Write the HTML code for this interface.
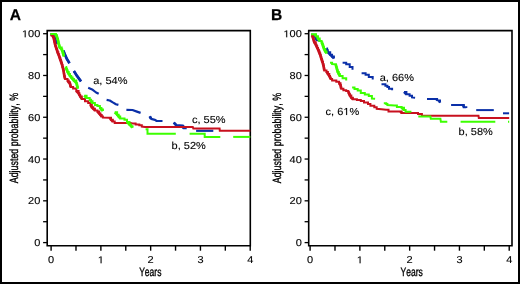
<!DOCTYPE html>
<html><head><meta charset="utf-8"><title>Adjusted probability</title>
<style>
html,body{margin:0;padding:0;background:#fff;width:520px;height:284px;overflow:hidden;}
svg{display:block;will-change:transform;filter:blur(0.35px);}
g.tk,g.an,g.ttl,g.lt{fill:#000;stroke:#000;}
g text{font-kerning:none;text-rendering:geometricPrecision;white-space:pre;}
g.g1,path.g1{vector-effect:non-scaling-stroke;}
g.tk text{stroke-width:0.12px;} g.tk path{stroke-width:0.12px;}
g.an text{stroke-width:0.1px;} g.an path{stroke-width:0.1px;}
g.ttl text{stroke-width:0.35px;}
g.lt text{stroke-width:0.25px;}
</style></head>
<body>
<svg width="520" height="284" viewBox="0 0 520 284">
<rect x="0" y="0" width="520" height="284" fill="#fff"/>
<path d="M47.20 30.60 H250.30 V245.80 H47.20 Z" fill="none" stroke="#000" stroke-width="1.6"/>
<line x1="43.10" y1="242.60" x2="47.20" y2="242.60" stroke="#000" stroke-width="1.3"/>
<line x1="43.10" y1="221.71" x2="47.20" y2="221.71" stroke="#000" stroke-width="1.3"/>
<line x1="43.10" y1="200.82" x2="47.20" y2="200.82" stroke="#000" stroke-width="1.3"/>
<line x1="43.10" y1="179.93" x2="47.20" y2="179.93" stroke="#000" stroke-width="1.3"/>
<line x1="43.10" y1="159.04" x2="47.20" y2="159.04" stroke="#000" stroke-width="1.3"/>
<line x1="43.10" y1="138.15" x2="47.20" y2="138.15" stroke="#000" stroke-width="1.3"/>
<line x1="43.10" y1="117.26" x2="47.20" y2="117.26" stroke="#000" stroke-width="1.3"/>
<line x1="43.10" y1="96.37" x2="47.20" y2="96.37" stroke="#000" stroke-width="1.3"/>
<line x1="43.10" y1="75.48" x2="47.20" y2="75.48" stroke="#000" stroke-width="1.3"/>
<line x1="43.10" y1="54.59" x2="47.20" y2="54.59" stroke="#000" stroke-width="1.3"/>
<line x1="43.10" y1="33.70" x2="47.20" y2="33.70" stroke="#000" stroke-width="1.3"/>
<line x1="51.10" y1="245.80" x2="51.10" y2="250.70" stroke="#000" stroke-width="1.4"/>
<line x1="75.99" y1="245.80" x2="75.99" y2="250.70" stroke="#000" stroke-width="1.4"/>
<line x1="100.88" y1="245.80" x2="100.88" y2="250.70" stroke="#000" stroke-width="1.4"/>
<line x1="125.77" y1="245.80" x2="125.77" y2="250.70" stroke="#000" stroke-width="1.4"/>
<line x1="150.66" y1="245.80" x2="150.66" y2="250.70" stroke="#000" stroke-width="1.4"/>
<line x1="175.55" y1="245.80" x2="175.55" y2="250.70" stroke="#000" stroke-width="1.4"/>
<line x1="200.44" y1="245.80" x2="200.44" y2="250.70" stroke="#000" stroke-width="1.4"/>
<line x1="225.33" y1="245.80" x2="225.33" y2="250.70" stroke="#000" stroke-width="1.4"/>
<line x1="250.22" y1="245.80" x2="250.22" y2="250.70" stroke="#000" stroke-width="1.4"/>
<g class="tk" transform="translate(40.30,246.20) scale(1.1,1)" font-family='"Liberation Sans", sans-serif' font-size="10.0" font-weight="normal"><text x="-5.562" y="0">0</text></g>
<g class="tk" transform="translate(40.30,204.42) scale(1.1,1)" font-family='"Liberation Sans", sans-serif' font-size="10.0" font-weight="normal"><text x="-11.123" y="0">20</text></g>
<g class="tk" transform="translate(40.30,162.64) scale(1.1,1)" font-family='"Liberation Sans", sans-serif' font-size="10.0" font-weight="normal"><text x="-11.123" y="0">40</text></g>
<g class="tk" transform="translate(40.30,120.86) scale(1.1,1)" font-family='"Liberation Sans", sans-serif' font-size="10.0" font-weight="normal"><text x="-11.123" y="0">60</text></g>
<g class="tk" transform="translate(40.30,79.08) scale(1.1,1)" font-family='"Liberation Sans", sans-serif' font-size="10.0" font-weight="normal"><text x="-11.123" y="0">80</text></g>
<g class="tk" transform="translate(40.30,37.30) scale(1.1,1)" font-family='"Liberation Sans", sans-serif' font-size="10.0" font-weight="normal"><path class="g1" transform="translate(-16.685,0) scale(0.004883,-0.004883)" d="M515 0V1237L197 1010V1180L530 1409H696V0Z"/><text x="-11.123" y="0">00</text></g>
<g class="tk" transform="translate(51.10,263.30) scale(1.1,1)" font-family='"Liberation Sans", sans-serif' font-size="10.0" font-weight="normal"><text x="-2.781" y="0">0</text></g>
<g class="tk" transform="translate(100.88,263.30) scale(1.1,1)" font-family='"Liberation Sans", sans-serif' font-size="10.0" font-weight="normal"><path class="g1" transform="translate(-2.781,0) scale(0.004883,-0.004883)" d="M515 0V1237L197 1010V1180L530 1409H696V0Z"/></g>
<g class="tk" transform="translate(150.66,263.30) scale(1.1,1)" font-family='"Liberation Sans", sans-serif' font-size="10.0" font-weight="normal"><text x="-2.781" y="0">2</text></g>
<g class="tk" transform="translate(200.44,263.30) scale(1.1,1)" font-family='"Liberation Sans", sans-serif' font-size="10.0" font-weight="normal"><text x="-2.781" y="0">3</text></g>
<g class="tk" transform="translate(250.22,263.30) scale(1.1,1)" font-family='"Liberation Sans", sans-serif' font-size="10.0" font-weight="normal"><text x="-2.781" y="0">4</text></g>
<g class="ttl" transform="translate(150.30,275.90) scale(0.71,1)" font-family='"Liberation Sans", sans-serif' font-size="12.0" font-weight="normal"><text x="-15.674" y="0">Years</text></g>
<g class="ttl" transform="translate(18.20,138.10) rotate(-90) scale(0.74,1)" font-family='"Liberation Sans", sans-serif' font-size="12.0" font-weight="normal"><text x="-61.034" y="0">Adjusted probability, %</text></g>
<g class="lt" transform="translate(9.80,19.60) scale(1.0,1)" font-family='"Liberation Sans", sans-serif' font-size="15.6" font-weight="bold"><text x="0.000" y="0">A</text></g>
<path d="M50.30 34.20 L53.50 34.40 L55.90 38.80 L56.80 44.00" fill="none" stroke="#0a2fa8" stroke-width="2.2" stroke-linejoin="round" stroke-linecap="butt"/>
<path d="M53.50 34.40 L55.90 38.80 L56.80 44.00" fill="none" stroke="#0a2fa8" stroke-width="2.7" stroke-linejoin="round" stroke-linecap="butt"/>
<path d="M63.30 50.60 L64.80 54.30 L66.90 59.00 L69.50 63.20" fill="none" stroke="#0a2fa8" stroke-width="2.2" stroke-linejoin="round" stroke-linecap="butt"/>
<path d="M63.30 50.60 L64.80 54.30 L66.90 59.00 L69.50 63.20" fill="none" stroke="#0a2fa8" stroke-width="2.7" stroke-linejoin="round" stroke-linecap="butt"/>
<path d="M73.90 71.10 L77.00 75.90 L81.00 81.40" fill="none" stroke="#0a2fa8" stroke-width="2.2" stroke-linejoin="round" stroke-linecap="butt"/>
<path d="M73.90 71.10 L77.00 75.90 L81.00 81.40" fill="none" stroke="#0a2fa8" stroke-width="2.7" stroke-linejoin="round" stroke-linecap="butt"/>
<path d="M88.20 87.80 L92.10 89.40 L96.10 92.50 L98.70 93.80" fill="none" stroke="#0a2fa8" stroke-width="2.2" stroke-linejoin="round" stroke-linecap="butt"/>
<path d="M106.60 99.90 L109.70 100.50 L112.80 102.40 L115.90 104.20 L118.40 104.90" fill="none" stroke="#0a2fa8" stroke-width="2.2" stroke-linejoin="round" stroke-linecap="butt"/>
<path d="M126.40 109.80 L132.50 110.00 L136.90 111.60 L140.60 112.90" fill="none" stroke="#0a2fa8" stroke-width="2.2" stroke-linejoin="round" stroke-linecap="butt"/>
<path d="M149.80 116.30 L151.00 118.70 L152.10 119.20 L155.00 119.80 L156.70 121.00 L162.50 121.00" fill="none" stroke="#0a2fa8" stroke-width="2.2" stroke-linejoin="round" stroke-linecap="butt"/>
<path d="M149.80 116.30 L151.00 118.70" fill="none" stroke="#0a2fa8" stroke-width="2.7" stroke-linejoin="round" stroke-linecap="butt"/>
<path d="M173.75 122.60 L176.30 125.20 L183.00 125.50 L183.30 128.20 L186.70 128.20" fill="none" stroke="#0a2fa8" stroke-width="2.2" stroke-linejoin="round" stroke-linecap="butt"/>
<path d="M173.75 122.60 L176.30 125.20" fill="none" stroke="#0a2fa8" stroke-width="2.7" stroke-linejoin="round" stroke-linecap="butt"/>
<path d="M183.00 125.50 L183.30 128.20" fill="none" stroke="#0a2fa8" stroke-width="2.7" stroke-linejoin="round" stroke-linecap="butt"/>
<path d="M196.10 130.80 L213.30 130.80" fill="none" stroke="#0a2fa8" stroke-width="2.2" stroke-linejoin="round" stroke-linecap="butt"/>
<path d="M50.30 35.20 L52.30 35.50 L53.05 35.50 L53.05 37.00 L53.80 37.00 L53.80 38.50 L54.10 38.50 L54.10 40.05 L54.40 40.05 L54.40 41.60 L54.90 41.60 L54.90 43.70 L55.40 43.70 L55.40 45.80 L55.95 45.80 L55.95 47.40 L56.50 47.40 L56.50 49.00 L57.00 49.00 L57.00 50.60 L57.50 50.60 L57.50 52.20 L58.30 52.20 L58.30 54.30 L59.10 54.30 L59.10 56.40 L59.75 56.40 L59.75 58.20 L60.40 58.20 L60.40 60.00 L60.93 60.00 L60.93 61.60 L61.47 61.60 L61.47 63.20 L62.00 63.20 L62.00 64.80 L62.53 64.80 L62.53 66.90 L63.07 66.90 L63.07 69.00 L63.60 69.00 L63.60 71.10 L63.83 71.10 L63.83 72.70 L64.07 72.70 L64.07 74.30 L64.30 74.30 L64.30 75.90 L64.70 75.90 L64.70 77.45 L65.10 77.45 L65.10 79.00 L67.50 79.00 L67.50 80.60 L68.70 80.60 L68.70 82.20 L69.90 82.20 L69.90 83.80 L70.30 83.80 L70.30 85.40 L70.70 85.40 L70.70 87.00 L73.10 87.00 L73.10 88.60 L76.30 88.60 L76.30 91.00 L78.60 91.00 L78.60 93.30 L79.40 93.30 L79.40 94.90 L80.20 94.90 L80.20 96.50 L81.80 96.50 L81.80 98.90 L85.00 98.90 L85.00 101.30 L88.20 101.30 L88.20 102.90 L90.50 102.90 L90.50 105.00 L91.80 105.00 L91.80 107.30 L93.35 107.30 L93.35 108.85 L94.90 108.85 L94.90 110.40 L97.40 110.40 L97.40 111.60 L99.20 111.60 L99.20 113.50 L100.45 113.50 L100.45 115.05 L101.70 115.05 L101.70 116.60 L102.90 116.60 L102.90 117.60 L109.70 117.80 L111.00 117.80 L111.00 119.70 L112.80 119.70 L112.80 121.50 L114.70 121.50 L114.70 122.90 L130.70 122.90 L132.50 123.40 L135.60 123.40 L135.60 124.60 L139.30 124.60 L139.30 125.20 L141.80 125.20 L141.80 126.60 L145.00 127.00 L192.80 127.00 L193.30 128.50 L219.60 128.50 L219.80 130.80 L250.30 130.80" fill="none" stroke="#c8101e" stroke-width="2.0" stroke-linejoin="miter" stroke-linecap="butt"/><path d="M52.30 35.50 L53.80 38.50 L54.40 41.60 L55.40 45.80 L56.50 49.00 L57.50 52.20 L59.10 56.40 L60.40 60.00 L62.00 64.80 L63.60 71.10 L64.30 75.90 L65.10 79.00" fill="none" stroke="#c8101e" stroke-width="2.6" stroke-linejoin="round" stroke-linecap="butt"/><path d="M67.50 80.60 L69.90 83.80 L70.70 87.00" fill="none" stroke="#c8101e" stroke-width="2.6" stroke-linejoin="round" stroke-linecap="butt"/><path d="M76.30 91.00 L78.60 93.30 L80.20 96.50 L81.80 98.90" fill="none" stroke="#c8101e" stroke-width="2.6" stroke-linejoin="round" stroke-linecap="butt"/><path d="M90.50 105.00 L91.80 107.30 L94.90 110.40" fill="none" stroke="#c8101e" stroke-width="2.6" stroke-linejoin="round" stroke-linecap="butt"/><path d="M97.40 111.60 L99.20 113.50 L101.70 116.60" fill="none" stroke="#c8101e" stroke-width="2.6" stroke-linejoin="round" stroke-linecap="butt"/><path d="M109.70 117.80 L111.00 119.70 L112.80 121.50" fill="none" stroke="#c8101e" stroke-width="2.6" stroke-linejoin="round" stroke-linecap="butt"/>
<path d="M50.30 33.90 L54.90 33.90 L55.90 33.90 L55.90 35.30 L57.00 35.30 L57.00 37.40 L57.50 37.40 L57.50 39.00 L58.00 39.00 L58.00 40.60 L58.30 40.60 L58.30 42.15 L58.60 42.15 L58.60 43.70 L59.10 43.70 L59.10 45.55 L59.60 45.55 L59.60 47.40 L61.70 47.40 L61.70 49.50 L62.25 49.50 L62.25 51.10 L62.80 51.10 L62.80 52.70 L63.30 52.70 L63.30 54.55 L63.80 54.55 L63.80 56.40" fill="none" stroke="#3cff00" stroke-width="2.0" stroke-linejoin="miter" stroke-linecap="butt"/><path d="M54.90 33.90 L55.90 35.30 L57.00 37.40 L58.00 40.60 L58.60 43.70 L59.60 47.40 L61.70 49.50 L62.80 52.70 L63.80 56.40" fill="none" stroke="#3cff00" stroke-width="2.6" stroke-linejoin="round" stroke-linecap="butt"/>
<path d="M65.60 67.00 L66.23 67.00 L66.23 68.63 L66.87 68.63 L66.87 70.27 L67.50 70.27 L67.50 71.90 L68.70 71.90 L68.70 73.90 L69.90 73.90 L69.90 75.90 L71.23 75.90 L71.23 77.47 L72.57 77.47 L72.57 79.03 L73.90 79.03 L73.90 80.60 L76.30 80.60 L76.30 83.00 L76.80 83.00 L76.80 84.87 L77.30 84.87 L77.30 86.73 L77.80 86.73 L77.80 88.60" fill="none" stroke="#3cff00" stroke-width="2.0" stroke-linejoin="miter" stroke-linecap="butt"/><path d="M65.60 67.00 L67.50 71.90 L69.90 75.90 L73.90 80.60 L76.30 83.00 L77.80 88.60" fill="none" stroke="#3cff00" stroke-width="2.6" stroke-linejoin="round" stroke-linecap="butt"/>
<path d="M84.20 95.70 L86.60 95.70 L86.60 98.10 L89.70 98.10 L89.70 99.70 L91.10 99.70 L91.10 101.35 L92.50 101.35 L92.50 103.00 L94.90 103.00 L94.90 104.90 L97.40 104.90 L97.40 106.10 L99.90 106.10 L99.90 107.90 L101.40 107.90 L101.40 109.45 L102.90 109.45 L102.90 111.00" fill="none" stroke="#3cff00" stroke-width="2.0" stroke-linejoin="miter" stroke-linecap="butt"/><path d="M84.20 95.70 L86.60 98.10" fill="none" stroke="#3cff00" stroke-width="2.6" stroke-linejoin="round" stroke-linecap="butt"/><path d="M89.70 99.70 L92.50 103.00" fill="none" stroke="#3cff00" stroke-width="2.6" stroke-linejoin="round" stroke-linecap="butt"/><path d="M99.90 107.90 L102.90 111.00" fill="none" stroke="#3cff00" stroke-width="2.6" stroke-linejoin="round" stroke-linecap="butt"/>
<path d="M114.70 112.30 L117.10 112.30 L117.10 114.70 L118.65 114.70 L118.65 116.55 L120.20 116.55 L120.20 118.40 L124.50 118.40 L124.50 119.70 L127.00 119.70 L127.00 122.10 L129.50 122.10 L129.50 124.60 L131.00 124.60 L131.00 126.15 L132.50 126.15 L132.50 127.70" fill="none" stroke="#3cff00" stroke-width="2.0" stroke-linejoin="miter" stroke-linecap="butt"/><path d="M114.70 112.30 L117.10 114.70 L120.20 118.40" fill="none" stroke="#3cff00" stroke-width="2.6" stroke-linejoin="round" stroke-linecap="butt"/><path d="M127.00 122.10 L129.50 124.60 L132.50 127.70" fill="none" stroke="#3cff00" stroke-width="2.6" stroke-linejoin="round" stroke-linecap="butt"/>
<path d="M145.60 129.30 L147.50 129.30 L147.50 133.70 L175.80 133.70" fill="none" stroke="#3cff00" stroke-width="2.0" stroke-linejoin="miter" stroke-linecap="butt"/>
<path d="M189.60 133.70 L204.70 133.70 L204.70 136.90 L220.30 136.90" fill="none" stroke="#3cff00" stroke-width="2.0" stroke-linejoin="miter" stroke-linecap="butt"/>
<path d="M233.20 136.90 L250.30 136.90" fill="none" stroke="#3cff00" stroke-width="2.0" stroke-linejoin="miter" stroke-linecap="butt"/>
<g class="an" transform="translate(93.20,83.80) scale(1.08,1)" font-family='"Liberation Sans", sans-serif' font-size="10.2" font-weight="normal"><text x="0.000" y="0">a, 54%</text></g>
<g class="an" transform="translate(192.00,122.90) scale(1.08,1)" font-family='"Liberation Sans", sans-serif' font-size="10.2" font-weight="normal"><text x="0.000" y="0">c, 55%</text></g>
<g class="an" transform="translate(171.60,149.30) scale(1.08,1)" font-family='"Liberation Sans", sans-serif' font-size="10.2" font-weight="normal"><text x="0.000" y="0">b, 52%</text></g>
<path d="M308.70 30.60 H512.00 V245.80 H308.70 Z" fill="none" stroke="#000" stroke-width="1.6"/>
<line x1="304.60" y1="242.60" x2="308.70" y2="242.60" stroke="#000" stroke-width="1.3"/>
<line x1="304.60" y1="221.71" x2="308.70" y2="221.71" stroke="#000" stroke-width="1.3"/>
<line x1="304.60" y1="200.82" x2="308.70" y2="200.82" stroke="#000" stroke-width="1.3"/>
<line x1="304.60" y1="179.93" x2="308.70" y2="179.93" stroke="#000" stroke-width="1.3"/>
<line x1="304.60" y1="159.04" x2="308.70" y2="159.04" stroke="#000" stroke-width="1.3"/>
<line x1="304.60" y1="138.15" x2="308.70" y2="138.15" stroke="#000" stroke-width="1.3"/>
<line x1="304.60" y1="117.26" x2="308.70" y2="117.26" stroke="#000" stroke-width="1.3"/>
<line x1="304.60" y1="96.37" x2="308.70" y2="96.37" stroke="#000" stroke-width="1.3"/>
<line x1="304.60" y1="75.48" x2="308.70" y2="75.48" stroke="#000" stroke-width="1.3"/>
<line x1="304.60" y1="54.59" x2="308.70" y2="54.59" stroke="#000" stroke-width="1.3"/>
<line x1="304.60" y1="33.70" x2="308.70" y2="33.70" stroke="#000" stroke-width="1.3"/>
<line x1="310.10" y1="245.80" x2="310.10" y2="250.70" stroke="#000" stroke-width="1.4"/>
<line x1="334.99" y1="245.80" x2="334.99" y2="250.70" stroke="#000" stroke-width="1.4"/>
<line x1="359.88" y1="245.80" x2="359.88" y2="250.70" stroke="#000" stroke-width="1.4"/>
<line x1="384.77" y1="245.80" x2="384.77" y2="250.70" stroke="#000" stroke-width="1.4"/>
<line x1="409.66" y1="245.80" x2="409.66" y2="250.70" stroke="#000" stroke-width="1.4"/>
<line x1="434.55" y1="245.80" x2="434.55" y2="250.70" stroke="#000" stroke-width="1.4"/>
<line x1="459.44" y1="245.80" x2="459.44" y2="250.70" stroke="#000" stroke-width="1.4"/>
<line x1="484.33" y1="245.80" x2="484.33" y2="250.70" stroke="#000" stroke-width="1.4"/>
<line x1="509.22" y1="245.80" x2="509.22" y2="250.70" stroke="#000" stroke-width="1.4"/>
<g class="tk" transform="translate(301.80,246.20) scale(1.1,1)" font-family='"Liberation Sans", sans-serif' font-size="10.0" font-weight="normal"><text x="-5.562" y="0">0</text></g>
<g class="tk" transform="translate(301.80,204.42) scale(1.1,1)" font-family='"Liberation Sans", sans-serif' font-size="10.0" font-weight="normal"><text x="-11.123" y="0">20</text></g>
<g class="tk" transform="translate(301.80,162.64) scale(1.1,1)" font-family='"Liberation Sans", sans-serif' font-size="10.0" font-weight="normal"><text x="-11.123" y="0">40</text></g>
<g class="tk" transform="translate(301.80,120.86) scale(1.1,1)" font-family='"Liberation Sans", sans-serif' font-size="10.0" font-weight="normal"><text x="-11.123" y="0">60</text></g>
<g class="tk" transform="translate(301.80,79.08) scale(1.1,1)" font-family='"Liberation Sans", sans-serif' font-size="10.0" font-weight="normal"><text x="-11.123" y="0">80</text></g>
<g class="tk" transform="translate(301.80,37.30) scale(1.1,1)" font-family='"Liberation Sans", sans-serif' font-size="10.0" font-weight="normal"><path class="g1" transform="translate(-16.685,0) scale(0.004883,-0.004883)" d="M515 0V1237L197 1010V1180L530 1409H696V0Z"/><text x="-11.123" y="0">00</text></g>
<g class="tk" transform="translate(310.10,263.30) scale(1.1,1)" font-family='"Liberation Sans", sans-serif' font-size="10.0" font-weight="normal"><text x="-2.781" y="0">0</text></g>
<g class="tk" transform="translate(359.88,263.30) scale(1.1,1)" font-family='"Liberation Sans", sans-serif' font-size="10.0" font-weight="normal"><path class="g1" transform="translate(-2.781,0) scale(0.004883,-0.004883)" d="M515 0V1237L197 1010V1180L530 1409H696V0Z"/></g>
<g class="tk" transform="translate(409.66,263.30) scale(1.1,1)" font-family='"Liberation Sans", sans-serif' font-size="10.0" font-weight="normal"><text x="-2.781" y="0">2</text></g>
<g class="tk" transform="translate(459.44,263.30) scale(1.1,1)" font-family='"Liberation Sans", sans-serif' font-size="10.0" font-weight="normal"><text x="-2.781" y="0">3</text></g>
<g class="tk" transform="translate(509.22,263.30) scale(1.1,1)" font-family='"Liberation Sans", sans-serif' font-size="10.0" font-weight="normal"><text x="-2.781" y="0">4</text></g>
<g class="ttl" transform="translate(411.70,275.90) scale(0.71,1)" font-family='"Liberation Sans", sans-serif' font-size="12.0" font-weight="normal"><text x="-15.674" y="0">Years</text></g>
<g class="ttl" transform="translate(281.30,138.10) rotate(-90) scale(0.74,1)" font-family='"Liberation Sans", sans-serif' font-size="12.0" font-weight="normal"><text x="-61.034" y="0">Adjusted probability, %</text></g>
<g class="lt" transform="translate(270.90,19.60) scale(1.0,1)" font-family='"Liberation Sans", sans-serif' font-size="15.6" font-weight="bold"><text x="0.000" y="0">B</text></g>
<path d="M311.10 34.60 L314.00 34.80 L315.40 34.80 L315.40 36.80 L316.00 36.80 L316.00 38.35 L316.60 38.35 L316.60 39.90 L318.50 39.90 L318.50 41.50" fill="none" stroke="#0a2fa8" stroke-width="2.0" stroke-linejoin="miter" stroke-linecap="butt"/><path d="M314.00 34.80 L315.40 36.80 L316.60 39.90" fill="none" stroke="#0a2fa8" stroke-width="2.6" stroke-linejoin="round" stroke-linecap="butt"/>
<path d="M326.50 48.50 L327.10 48.50 L327.10 50.35 L327.70 50.35 L327.70 52.20 L330.20 52.20 L330.20 54.70 L332.05 54.70 L332.05 56.55 L333.90 56.55 L333.90 58.40" fill="none" stroke="#0a2fa8" stroke-width="2.0" stroke-linejoin="miter" stroke-linecap="butt"/><path d="M326.50 48.50 L327.70 52.20 L330.20 54.70 L333.90 58.40" fill="none" stroke="#0a2fa8" stroke-width="2.6" stroke-linejoin="round" stroke-linecap="butt"/>
<path d="M342.60 62.70 L346.20 62.70 L346.20 64.20 L349.70 64.20 L349.70 67.00 L352.50 67.00 L352.50 69.80" fill="none" stroke="#0a2fa8" stroke-width="2.0" stroke-linejoin="miter" stroke-linecap="butt"/>
<path d="M361.60 73.20 L365.60 73.20 L365.60 74.80 L368.80 74.80 L368.80 77.10 L372.70 77.10 L372.70 79.50" fill="none" stroke="#0a2fa8" stroke-width="2.0" stroke-linejoin="miter" stroke-linecap="butt"/>
<path d="M381.50 84.30 L385.40 84.30 L385.40 85.80 L387.40 85.80 L387.40 87.10 L389.00 87.10 L389.00 88.70 L392.10 88.70 L392.10 90.30" fill="none" stroke="#0a2fa8" stroke-width="2.0" stroke-linejoin="miter" stroke-linecap="butt"/>
<path d="M404.00 91.90 L406.40 91.90 L406.40 94.30 L409.60 94.30 L409.60 95.80 L412.00 95.80 L412.00 97.40 L415.10 97.70" fill="none" stroke="#0a2fa8" stroke-width="2.0" stroke-linejoin="miter" stroke-linecap="butt"/><path d="M404.00 91.90 L406.40 94.30" fill="none" stroke="#0a2fa8" stroke-width="2.6" stroke-linejoin="round" stroke-linecap="butt"/>
<path d="M427.00 99.00 L436.50 99.00 L437.10 99.00 L437.10 100.20 L439.00 100.60 L440.00 100.60 L440.00 102.20 L440.30 102.80" fill="none" stroke="#0a2fa8" stroke-width="2.0" stroke-linejoin="miter" stroke-linecap="butt"/><path d="M436.50 99.00 L437.10 100.20" fill="none" stroke="#0a2fa8" stroke-width="2.6" stroke-linejoin="round" stroke-linecap="butt"/><path d="M439.00 100.60 L440.00 102.20" fill="none" stroke="#0a2fa8" stroke-width="2.6" stroke-linejoin="round" stroke-linecap="butt"/>
<path d="M451.10 104.90 L463.10 104.90 L463.80 104.90 L463.80 107.20 L466.30 107.20 L466.30 107.90" fill="none" stroke="#0a2fa8" stroke-width="2.0" stroke-linejoin="miter" stroke-linecap="butt"/><path d="M463.10 104.90 L463.80 107.20" fill="none" stroke="#0a2fa8" stroke-width="2.6" stroke-linejoin="round" stroke-linecap="butt"/>
<path d="M476.20 110.10 L493.80 110.10" fill="none" stroke="#0a2fa8" stroke-width="2.0" stroke-linejoin="miter" stroke-linecap="butt"/>
<path d="M503.00 113.30 L509.10 113.30" fill="none" stroke="#0a2fa8" stroke-width="2.0" stroke-linejoin="miter" stroke-linecap="butt"/>
<path d="M311.10 35.50 L312.30 35.90 L312.75 35.90 L312.75 37.25 L313.20 37.25 L313.20 38.60 L313.75 38.60 L313.75 40.45 L314.30 40.45 L314.30 42.30 L315.80 42.30 L315.80 44.80 L316.50 44.80 L316.50 46.35 L317.20 46.35 L317.20 47.90 L318.00 47.90 L318.00 49.75 L318.80 49.75 L318.80 51.60 L319.55 51.60 L319.55 53.45 L320.30 53.45 L320.30 55.30 L320.85 55.30 L320.85 57.15 L321.40 57.15 L321.40 59.00 L321.90 59.00 L321.90 60.50 L322.40 60.50 L322.40 62.00 L323.00 62.00 L323.00 64.15 L323.60 64.15 L323.60 66.30 L323.95 66.30 L323.95 68.40 L324.30 68.40 L324.30 70.50 L326.50 70.50 L326.50 71.90 L327.90 71.90 L327.90 74.00 L329.30 74.00 L329.30 76.10 L330.00 76.10 L330.00 77.55 L330.70 77.55 L330.70 79.00 L332.10 79.00 L332.10 80.40 L334.20 80.40 L336.30 80.40 L336.30 81.80 L339.10 81.80 L339.10 83.20 L340.50 83.20 L340.50 85.30 L340.85 85.30 L340.85 87.05 L341.20 87.05 L341.20 88.80 L343.40 88.80 L343.40 90.20 L346.20 90.20 L346.20 90.90 L348.30 90.90 L348.30 92.30 L349.05 92.30 L349.05 93.85 L349.80 93.85 L349.80 95.40 L351.30 95.40 L351.30 97.70 L352.90 97.70 L352.90 99.30 L356.90 99.30 L356.90 100.10 L360.80 100.10 L360.80 100.90 L364.00 100.90 L364.00 102.50 L368.00 102.50 L368.00 104.10 L370.40 104.10 L370.40 105.70 L374.30 105.70 L374.30 107.20 L376.70 107.20 L376.70 108.80 L381.50 109.30 L386.00 109.80 L388.50 109.80 L388.50 111.40 L400.50 111.40 L401.60 111.40 L401.60 113.00 L416.50 113.00 L418.00 113.00 L418.00 114.10 L421.90 114.10 L421.90 115.20 L423.00 115.70 L478.50 115.70 L478.80 118.00 L509.20 118.00" fill="none" stroke="#c8101e" stroke-width="2.0" stroke-linejoin="miter" stroke-linecap="butt"/><path d="M312.30 35.90 L313.20 38.60 L314.30 42.30 L315.80 44.80 L317.20 47.90 L318.80 51.60 L320.30 55.30 L321.40 59.00 L322.40 62.00 L323.60 66.30 L324.30 70.50" fill="none" stroke="#c8101e" stroke-width="2.6" stroke-linejoin="round" stroke-linecap="butt"/><path d="M326.50 71.90 L327.90 74.00 L329.30 76.10 L330.70 79.00" fill="none" stroke="#c8101e" stroke-width="2.6" stroke-linejoin="round" stroke-linecap="butt"/><path d="M339.10 83.20 L340.50 85.30 L341.20 88.80" fill="none" stroke="#c8101e" stroke-width="2.6" stroke-linejoin="round" stroke-linecap="butt"/><path d="M348.30 92.30 L349.80 95.40 L351.30 97.70 L352.90 99.30" fill="none" stroke="#c8101e" stroke-width="2.6" stroke-linejoin="round" stroke-linecap="butt"/><path d="M400.50 111.40 L401.60 113.00" fill="none" stroke="#c8101e" stroke-width="2.6" stroke-linejoin="round" stroke-linecap="butt"/>
<path d="M311.10 34.30 L314.80 34.30 L316.00 34.30 L316.00 36.20 L317.20 36.20 L317.90 36.20 L317.90 38.60 L319.70 38.60 L319.70 41.10 L321.60 41.10 L321.60 42.30 L322.20 42.30 L322.20 43.85 L322.80 43.85 L322.80 45.40 L323.40 45.40 L323.40 47.25 L324.00 47.25 L324.00 49.10 L325.30 49.10 L325.30 51.60 L326.50 51.60 L326.50 53.40" fill="none" stroke="#3cff00" stroke-width="2.0" stroke-linejoin="miter" stroke-linecap="butt"/><path d="M314.80 34.30 L316.00 36.20" fill="none" stroke="#3cff00" stroke-width="2.6" stroke-linejoin="round" stroke-linecap="butt"/><path d="M317.20 36.20 L317.90 38.60 L319.70 41.10" fill="none" stroke="#3cff00" stroke-width="2.6" stroke-linejoin="round" stroke-linecap="butt"/><path d="M321.60 42.30 L322.80 45.40 L324.00 49.10 L325.30 51.60 L326.50 53.40" fill="none" stroke="#3cff00" stroke-width="2.6" stroke-linejoin="round" stroke-linecap="butt"/>
<path d="M330.00 62.70 L332.10 62.70 L332.10 64.00 L335.60 64.20 L335.95 64.20 L335.95 65.60 L336.30 65.60 L336.30 67.00 L336.77 67.00 L336.77 68.63 L337.23 68.63 L337.23 70.27 L337.70 70.27 L337.70 71.90 L338.75 71.90 L338.75 74.00 L339.80 74.00 L339.80 76.10 L342.60 76.10 L342.60 78.20 L346.20 78.20 L346.20 80.40" fill="none" stroke="#3cff00" stroke-width="2.0" stroke-linejoin="miter" stroke-linecap="butt"/><path d="M335.60 64.20 L336.30 67.00 L337.70 71.90 L339.80 76.10" fill="none" stroke="#3cff00" stroke-width="2.6" stroke-linejoin="round" stroke-linecap="butt"/>
<path d="M352.10 87.40 L354.50 87.40 L354.50 89.00 L357.70 89.00 L357.70 90.60 L360.80 90.60 L360.80 93.00 L364.80 93.00 L364.80 94.60 L368.80 94.60 L368.80 96.10 L371.90 96.10 L371.90 98.50 L375.10 98.80" fill="none" stroke="#3cff00" stroke-width="2.0" stroke-linejoin="miter" stroke-linecap="butt"/>
<path d="M383.80 103.30 L386.20 103.30 L386.20 104.10 L387.40 104.10 L387.40 105.00 L394.50 105.40 L396.90 105.40 L396.90 106.90 L401.60 106.90 L401.60 107.70 L404.00 107.70 L404.00 110.10 L405.60 110.10 L405.60 111.70 L410.40 111.70 L410.40 112.50" fill="none" stroke="#3cff00" stroke-width="2.0" stroke-linejoin="miter" stroke-linecap="butt"/><path d="M401.60 107.70 L404.00 110.10" fill="none" stroke="#3cff00" stroke-width="2.6" stroke-linejoin="round" stroke-linecap="butt"/>
<path d="M418.30 116.50 L430.40 116.50 L430.80 118.70 L440.40 118.80 L440.90 121.80 L447.30 121.80" fill="none" stroke="#3cff00" stroke-width="2.0" stroke-linejoin="miter" stroke-linecap="butt"/>
<path d="M460.60 121.80 L495.30 121.80" fill="none" stroke="#3cff00" stroke-width="2.0" stroke-linejoin="miter" stroke-linecap="butt"/>
<path d="M508.00 121.80 L509.20 121.80" fill="none" stroke="#3cff00" stroke-width="2.0" stroke-linejoin="miter" stroke-linecap="butt"/>
<g class="an" transform="translate(379.70,80.65) scale(1.08,1)" font-family='"Liberation Sans", sans-serif' font-size="10.2" font-weight="normal"><text x="0.000" y="0">a, 66%</text></g>
<g class="an" transform="translate(325.60,115.10) scale(1.08,1)" font-family='"Liberation Sans", sans-serif' font-size="10.2" font-weight="normal"><text x="0.000" y="0">c, 6</text><path class="g1" transform="translate(16.441,0) scale(0.004980,-0.004980)" d="M515 0V1237L197 1010V1180L530 1409H696V0Z"/><text x="22.113" y="0">%</text></g>
<g class="an" transform="translate(458.60,134.75) scale(1.08,1)" font-family='"Liberation Sans", sans-serif' font-size="10.2" font-weight="normal"><text x="0.000" y="0">b, 58%</text></g>
<rect x="1" y="1" width="518" height="282" fill="none" stroke="#000" stroke-width="2"/>
</svg>
</body></html>
